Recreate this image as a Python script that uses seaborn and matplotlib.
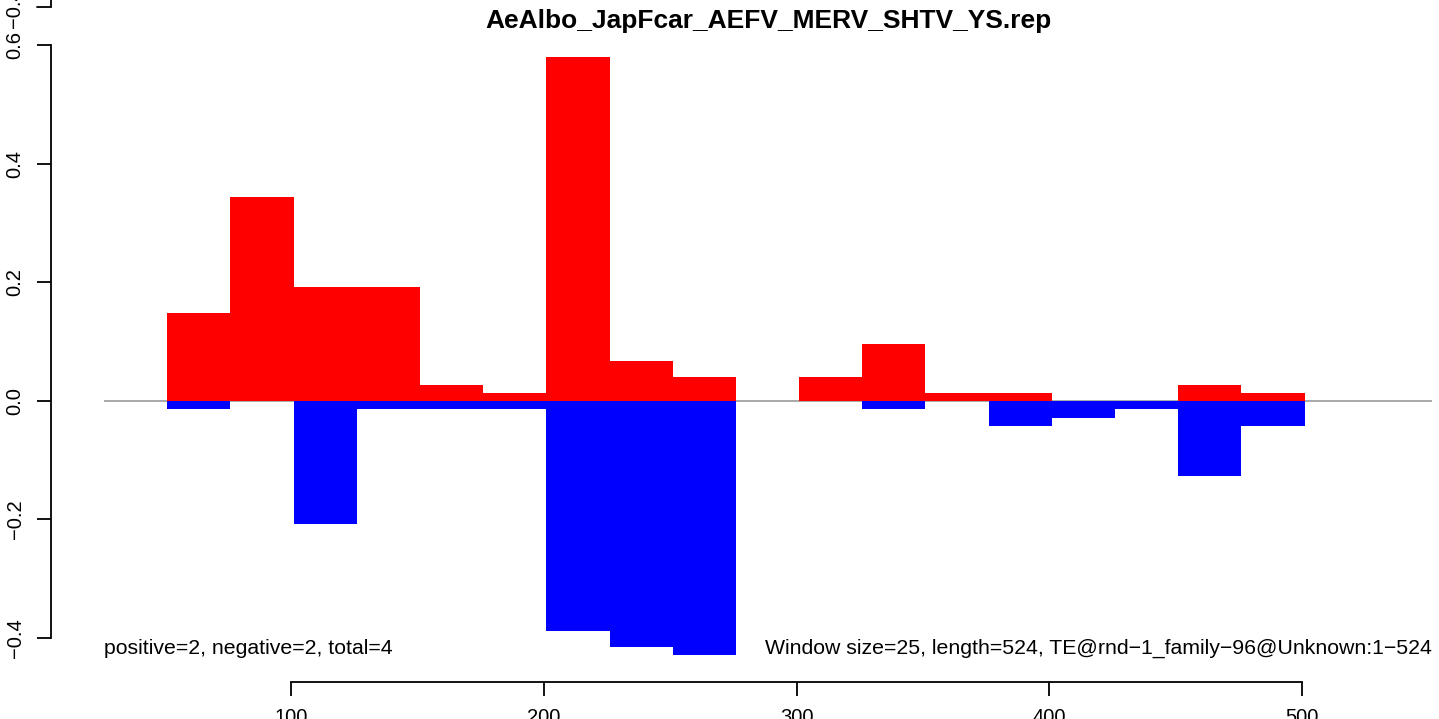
# Window plot of positive / negative scores along a TE, redrawn with seaborn
import numpy as np
import pandas as pd
import seaborn as sns
import matplotlib.pyplot as plt
from matplotlib.lines import Line2D

# window starts (window size 25, 1-based positions)
starts = [51, 76, 101, 126, 151, 176, 201, 226, 251, 276,
          301, 326, 351, 376, 401, 426, 451, 476]
# positive strand scores (red)
pos = [0.149, 0.345, 0.192, 0.192, 0.027, 0.0135, 0.581, 0.068, 0.041, 0.0,
       0.041, 0.096, 0.0135, 0.0135, 0.0, 0.0, 0.027, 0.0135]
# negative strand scores (blue)
neg = [-0.0135, 0.0, -0.207, -0.0135, -0.0135, -0.0135, -0.388, -0.415, -0.429, 0.0,
       0.0, -0.0135, 0.0, -0.042, -0.029, -0.0135, -0.127, -0.042]
xticks = [100, 200, 300, 400, 500]
yticks = [-0.4, -0.2, 0.0, 0.2, 0.4, 0.6]
title = "AeAlbo_JapFcar_AEFV_MERV_SHTV_YS.rep"
left_note = "positive=2, negative=2, total=4"
right_note = "Window size=25, length=524, TE@rnd\u22121_family\u221296@Unknown:1\u2212524"

df = pd.DataFrame({"start": starts, "pos": pos, "neg": neg})
edges = list(starts) + [starts[-1] + 25]

sns.set_style("white")
plt.rcParams['font.family'] = ['Liberation Sans', 'DejaVu Sans']
plt.rcParams['text.color'] = 'black'
plt.rcParams['xtick.color'] = 'black'
plt.rcParams['ytick.color'] = 'black'

W, H = 1439, 719
fig = plt.figure(figsize=(W / 100, H / 100), dpi=100)
ax = fig.add_axes([104 / W, (H - 680) / H, (1432 - 104) / W, (680 - 34) / H])

# zero line under the bars
ax.axhline(0, color='#999999', lw=1.2, zorder=0)

# bars as weighted histograms
sns.histplot(data=df, x="start", weights="neg", bins=edges, color='#0000FF',
             alpha=1, linewidth=0, ax=ax, zorder=2)
sns.histplot(data=df, x="start", weights="pos", bins=edges, color='#FF0000',
             alpha=1, linewidth=0, ax=ax, zorder=3)

ax.set_xlim(26.0, 551.4)
ax.set_ylim(-0.4709, 0.6194)
ax.set_xlabel("")
ax.set_ylabel("")

# R style axes
for s in ['top', 'right']:
    ax.spines[s].set_visible(False)
ax.spines['left'].set_position(('outward', 38.2))
ax.spines['bottom'].set_position(('outward', 1.4))
ax.spines['left'].set_bounds(-0.4, 0.6)
ax.spines['bottom'].set_bounds(100, 500)
for s in ['left', 'bottom']:
    ax.spines[s].set_color('black')
    ax.spines[s].set_linewidth(1.3)

ax.set_xticks(xticks)
ax.set_xticklabels([str(t) for t in xticks])
ax.set_yticks(yticks)
ax.set_yticklabels([f"{t:.1f}".replace('-', '\u2212') for t in yticks])
ax.tick_params(axis='both', which='both', direction='out', length=10, width=1.3,
               color='black', labelcolor='black', labelsize=14.5, left=True, bottom=True)
ax.tick_params(axis='x', pad=9)
ax.tick_params(axis='y', pad=9)
for lab in ax.get_yticklabels():
    lab.set_rotation(90)
    lab.set_va('center')
    lab.set_ha('right')

ax.set_title(title, fontweight='bold', fontsize=19, pad=4, color='black')

ax.text(0, -0.417, left_note, transform=ax.get_yaxis_transform(),
        ha='left', va='center', fontsize=15.3, color='black')
ax.text(1, -0.417, right_note, transform=ax.get_yaxis_transform(),
        ha='right', va='center', fontsize=15.3, color='black')

# bit of the panel above that shows at the very top
fig.add_artist(Line2D([37 / W, 51 / W], [1 - 7 / H, 1 - 7 / H], color='black', lw=1.3))
fig.add_artist(Line2D([51 / W, 51 / W], [1 - 7 / H, 1.0], color='black', lw=1.3))
fig.text(15 / W, 1 - 8 / H, "\u22120.4", rotation=90, ha='center', va='center',
         fontsize=14.5, color='black')

plt.savefig('out.png', dpi=100)
